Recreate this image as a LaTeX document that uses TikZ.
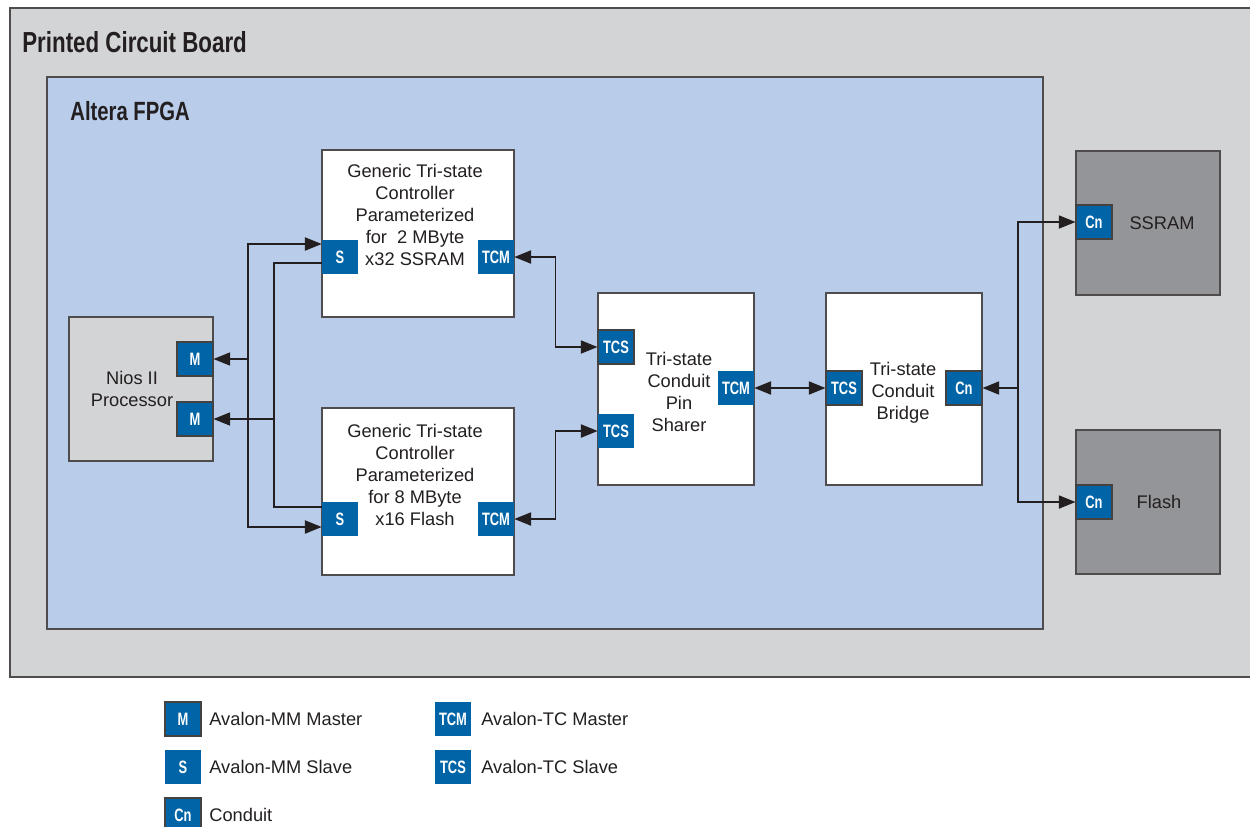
\documentclass[tikz,border=0pt]{standalone}
\usepackage{fontspec}
\setmainfont{Liberation Sans}
\newfontfamily\condbf[FakeStretch=0.77]{Liberation Sans Bold}
\newfontfamily\portbf[FakeStretch=0.72]{Liberation Sans Bold}
\usepackage{tikz}
\usetikzlibrary{arrows.meta,positioning,calc}
\definecolor{pcbGray}{HTML}{D3D4D6}
\definecolor{fpgaBlue}{HTML}{B9CDEA}
\definecolor{memGray}{HTML}{949599}
\definecolor{portBlue}{HTML}{0064A6}
\definecolor{inkDark}{HTML}{231F20}

\begin{document}
\begin{tikzpicture}[x=0.02cm, y=-0.02cm,
  font=\fontsize{10.4}{12.5}\selectfont, text=inkDark,
  >={Triangle[length=9.5pt,width=7.5pt]},
  blk/.style={draw=inkDark!80, line width=0.8pt, inner sep=0pt},
  port/.style={fill=portBlue, text=white, inner sep=0pt,
    minimum width=0.72cm, minimum height=0.68cm,
    font=\portbf\fontsize{10.2}{11}\selectfont},
  edged/.style={draw=inkDark!85, line width=0.6pt},
  title/.style={anchor=west, inner sep=0pt, font=\condbf\fontsize{16.5}{18}\selectfont},
  lbl/.style={align=center, inner sep=0pt},
  wire/.style={draw=inkDark, line width=0.8pt}]
\useasboundingbox (0,0) rectangle (1250,826);
% board and FPGA
\node[blk, fill=pcbGray, minimum width=24.84cm, minimum height=13.38cm] (pcb) at (631,342.5) {};
\node[title] (pcbT) at (22,42) {Printed Circuit Board};
\node[blk, fill=fpgaBlue, minimum width=19.92cm, minimum height=11.04cm] (fpga) at (545,353) {};
\node[title, font=\condbf\fontsize{15}{17}\selectfont] (fpgaT) at (70,111) {Altera FPGA};
% Nios II
\node[blk, fill=pcbGray, minimum width=2.88cm, minimum height=2.88cm] (nios) at (141,389) {};
\node[lbl] (niosT) at (132,389) {Nios II\\Processor};
\node[port, edged] (m1) at (195,359) {M};
\node[port, edged] (m2) at (195,419) {M};
% controllers
\node[blk, fill=white, minimum width=3.84cm, minimum height=3.34cm] (gen1) at (418,233.5) {};
\node[lbl] (gen1T) at (415,215) {Generic Tri-state\\Controller\\Parameterized\\for\ \ 2 MByte\\x32 SSRAM};
\node[port] (s1) at (340,257) {S};
\node[port] (tcm1) at (496,257) {TCM};
\node[blk, fill=white, minimum width=3.84cm, minimum height=3.34cm] (gen2) at (418,491.5) {};
\node[lbl] (gen2T) at (415,475) {Generic Tri-state\\Controller\\Parameterized\\for 8 MByte\\x16 Flash};
\node[port] (s2) at (340,519) {S};
\node[port] (tcm2) at (496,519) {TCM};
% pin sharer
\node[blk, fill=white, minimum width=3.12cm, minimum height=3.84cm] (sharer) at (676,389) {};
\node[lbl] (sharerT) at (679,392) {Tri-state\\Conduit\\Pin\\Sharer};
\node[port, edged] (tcs1) at (616,347) {TCS};
\node[port] (tcs2) at (616,431) {TCS};
\node[port] (tcm3) at (736,388) {TCM};
% bridge
\node[blk, fill=white, minimum width=3.12cm, minimum height=3.84cm] (bridge) at (904,389) {};
\node[lbl] (bridgeT) at (903,393) {Tri-state\\Conduit\\Bridge};
\node[port, edged] (tcs3) at (844,388) {TCS};
\node[port, edged] (cn1) at (964,388) {Cn};
% memories
\node[blk, fill=memGray, minimum width=2.88cm, minimum height=2.88cm] (ssram) at (1148,223) {};
\node[lbl] (ssramT) at (1162,223) {SSRAM};
\node[port, edged] (cn2) at (1094,222) {Cn};
\node[blk, fill=memGray, minimum width=2.88cm, minimum height=2.88cm] (flash) at (1148,502) {};
\node[lbl] (flashT) at (1159,502) {Flash};
\node[port, edged] (cn3) at (1094,502) {Cn};
% Avalon-MM buses
\coordinate (j1) at (248,359);
\coordinate (j2) at (274,419);
\draw[wire, ->] (j1) -- (m1);
\draw[wire, ->] (j1) |- ([yshift=0.26cm]s1.west);
\draw[wire, ->] (j1) |- ([yshift=-0.16cm]s2.west);
\draw[wire, ->] (j2) -- (m2);
\draw[wire] (j2) |- ([yshift=-0.12cm]s1.west);
\draw[wire] (j2) |- ([yshift=0.24cm]s2.west);
% tri-state links
\draw[wire, <->] (tcm1.east) -- ++(41,0) |- (tcs1.west);
\draw[wire, <->] (tcm2.east) -- ++(41,0) |- (tcs2.west);
\draw[wire, <->] (tcm3) -- (tcs3);
% conduits
\coordinate (cj) at (1018,388);
\draw[wire, ->] (cj) -- (cn1);
\draw[wire, ->] (cj) |- (cn2);
\draw[wire, ->] (cj) |- (cn3);
% legend
\node[port, edged] (lm) at (183,719) {M};
\node[anchor=west, inner sep=0pt] (lmT) at (209,719) {Avalon-MM Master};
\node[port] (ls) at (183,767) {S};
\node[anchor=west, inner sep=0pt] (lsT) at (209,767) {Avalon-MM Slave};
\node[port, edged] (lcn) at (183,815) {Cn};
\node[anchor=west, inner sep=0pt] (lcnT) at (209,815) {Conduit};
\node[port] (ltcm) at (453,719) {TCM};
\node[anchor=west, inner sep=0pt] (ltcmT) at (481,719) {Avalon-TC Master};
\node[port] (ltcs) at (453,767) {TCS};
\node[anchor=west, inner sep=0pt] (ltcsT) at (481,767) {Avalon-TC Slave};
\end{tikzpicture}
\end{document}
